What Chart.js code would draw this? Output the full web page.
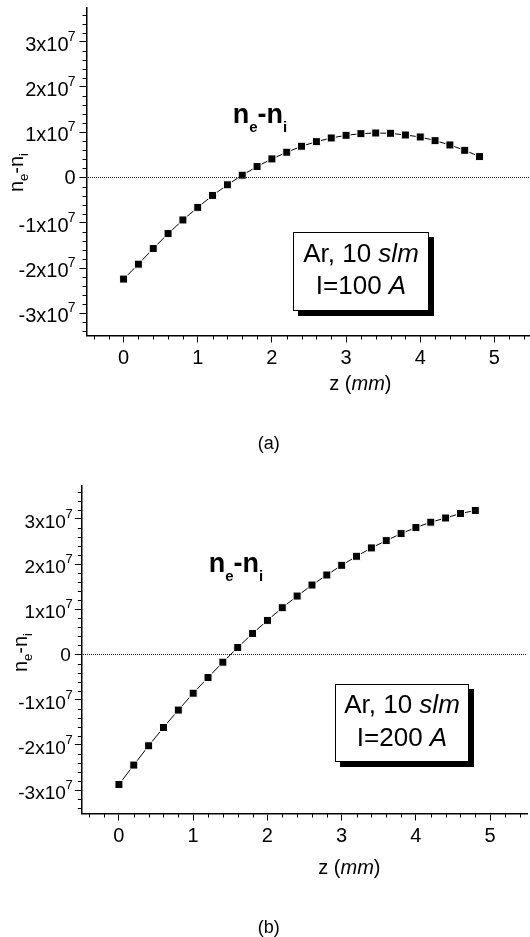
<!DOCTYPE html>
<html>
<head>
<meta charset="utf-8">
<script src="https://cdn.jsdelivr.net/npm/chart.js@4"></script>
<style>
html, body { margin: 0; padding: 0; background: #fff; overflow: hidden; }
canvas { position: absolute; left: 0; display: block; }
</style>
</head>
<body>
<canvas id="chartA" width="530" height="468" style="top:0"></canvas>
<canvas id="chartB" width="530" height="469" style="top:468px"></canvas>
<script>
// z (mm), same for both panels
const zValues = [0, 0.2, 0.4, 0.6, 0.8, 1, 1.2, 1.4, 1.6, 1.8, 2, 2.2, 2.4, 2.6, 2.8, 3, 3.2, 3.4, 3.6, 3.8, 4, 4.2, 4.4, 4.6, 4.8];
const valuesA = [-2.244e7, -1.914e7, -1.569e7, -1.239e7, -0.938e7, -0.66e7, -0.396e7, -0.161e7, 0.051e7, 0.242e7, 0.411e7, 0.558e7, 0.69e7, 0.792e7, 0.873e7, 0.932e7, 0.968e7, 0.983e7, 0.976e7, 0.939e7, 0.895e7, 0.814e7, 0.719e7, 0.6e7, 0.462e7];
const valuesB = [-2.876e7, -2.447e7, -2.02e7, -1.615e7, -1.23e7, -0.857e7, -0.51e7, -0.17e7, 0.155e7, 0.466e7, 0.754e7, 1.035e7, 1.293e7, 1.537e7, 1.759e7, 1.973e7, 2.173e7, 2.358e7, 2.52e7, 2.675e7, 2.809e7, 2.927e7, 3.02e7, 3.12e7, 3.186e7];
const xTicks = [0, 1, 2, 3, 4, 5];
const yTicks = [-3e7, -2e7, -1e7, 0, 1e7, 2e7, 3e7];
const yTickLabels = ["-3x10", "-2x10", "-1x10", "0", "1x10", "2x10", "3x10"];
const yTickExp = ["7", "7", "7", "", "7", "7", "7"];

const FONT = '"Liberation Sans", Arial, sans-serif';

// draws a row of text pieces with different fonts, x is the centre of the row
function drawRuns(ctx, runs, x, y) {
    let total = 0;
    runs.forEach((r) => {
        ctx.font = r.font;
        total += ctx.measureText(r.text).width;
    });
    let pos = x - total / 2;
    ctx.textAlign = "left";
    ctx.textBaseline = "alphabetic";
    runs.forEach((r) => {
        ctx.font = r.font;
        ctx.fillText(r.text, pos, y + (r.dy || 0));
        pos += ctx.measureText(r.text).width;
    });
}

function neRuns(size, subSize, dy, weight) {
    const main = `${weight} ${size}px ${FONT}`;
    const sub = `${weight} ${subSize}px ${FONT}`;
    return [
        { text: "n", font: main },
        { text: "e", font: sub, dy: dy },
        { text: "-", font: main },
        { text: "n", font: main },
        { text: "i", font: sub, dy: dy }
    ];
}

const decorPlugin = {
    id: "decor",
    afterDraw(chart, args, o) {
        const ctx = chart.ctx;
        const xs = chart.scales.x;
        const ys = chart.scales.y;
        const area = chart.chartArea;
        ctx.save();
        ctx.fillStyle = "#000";
        ctx.strokeStyle = "#000";

        // minor ticks
        ctx.lineWidth = 1;
        ctx.beginPath();
        for (let i = -2; i <= 27; i++) {
            if (i % 5 == 0) continue;
            const px = Math.round(xs.getPixelForValue(i * 0.2)) + 0.5;
            if (px > area.right) continue;
            ctx.moveTo(px, area.bottom);
            ctx.lineTo(px, area.bottom + 4);
        }
        for (let i = -17; i <= 18; i++) {
            if (i % 5 == 0) continue;
            const py = Math.round(ys.getPixelForValue(i * 0.2e7)) + 0.5;
            ctx.moveTo(area.left, py);
            ctx.lineTo(area.left - 4, py);
        }
        ctx.stroke();

        // y tick labels with exponent
        yTicks.forEach((v, i) => {
            const py = ys.getPixelForValue(v);
            ctx.textBaseline = "alphabetic";
            ctx.textAlign = "right";
            if (yTickExp[i]) {
                ctx.font = `${o.expSize}px ${FONT}`;
                ctx.fillText(yTickExp[i], area.left - o.expGap, py - 1);
                ctx.font = `${o.tickSize}px ${FONT}`;
                ctx.fillText(yTickLabels[i], area.left - o.expGap - 7, py + 9);
            } else {
                ctx.font = `${o.tickSize}px ${FONT}`;
                ctx.fillText(yTickLabels[i], area.left - 11, py + 7);
            }
        });

        // axis titles
        drawRuns(ctx, [
            { text: "z (", font: `20px ${FONT}` },
            { text: "mm", font: `italic 20px ${FONT}` },
            { text: ")", font: `20px ${FONT}` }
        ], o.xTitle[0], o.xTitle[1]);
        ctx.save();
        ctx.translate(o.yTitle[0], o.yTitle[1]);
        ctx.rotate(-Math.PI / 2);
        drawRuns(ctx, neRuns(20, 13, 5, "normal"), 0, 0);
        ctx.restore();

        // bold curve label
        drawRuns(ctx, neRuns(27, 15, 9, "bold"), o.curveLabel[0], o.curveLabel[1]);

        // note box with shadow
        const b = o.box;
        ctx.fillRect(b.x + 5, b.y + 5, b.w, b.h);
        ctx.fillStyle = "#fff";
        ctx.fillRect(b.x, b.y, b.w, b.h);
        ctx.lineWidth = 1;
        ctx.strokeRect(b.x + 0.5, b.y + 0.5, b.w - 1, b.h - 1);
        ctx.fillStyle = "#000";
        const cx = b.x + b.w / 2;
        drawRuns(ctx, [
            { text: "Ar, 10 ", font: `26px ${FONT}` },
            { text: "slm", font: `italic 26px ${FONT}` }
        ], cx, b.line1);
        drawRuns(ctx, [
            { text: o.current + " ", font: `26px ${FONT}` },
            { text: "A", font: `italic 26px ${FONT}` }
        ], cx, b.line2);

        // panel caption
        ctx.font = `18px ${FONT}`;
        ctx.textAlign = "center";
        ctx.fillText(o.caption[0], o.caption[1], o.caption[2]);
        ctx.restore();
    }
};

function makeChart(id, values, p) {
    return new Chart(document.getElementById(id), {
        type: "line",
        data: {
            datasets: [
                {
                    data: [{ x: p.xMin, y: 0 }, { x: p.xMax, y: 0 }],
                    borderColor: "#222",
                    borderWidth: 1,
                    borderDash: [1, 1],
                    borderDashOffset: p.dashOffset,
                    pointRadius: 0,
                    order: 0
                },
                {
                    data: zValues.map((z, i) => ({ x: z, y: values[i] })),
                    borderColor: "#000",
                    borderWidth: 1,
                    pointStyle: "rect",
                    pointRadius: 5.66,
                    pointBackgroundColor: "#000",
                    pointBorderColor: "#fff",
                    pointBorderWidth: 1,
                    order: 1
                }
            ]
        },
        options: {
            responsive: false,
            animation: false,
            devicePixelRatio: 1,
            layout: { autoPadding: false, padding: { top: p.top, right: p.right, left: 0, bottom: 0 } },
            plugins: {
                legend: { display: false },
                tooltip: { enabled: false },
                decor: p.decor
            },
            scales: {
                x: {
                    type: "linear",
                    min: p.xMin,
                    max: p.xMax,
                    afterBuildTicks: (s) => { s.ticks = xTicks.map((v) => ({ value: v })); },
                    afterFit: (s) => {
                        s.height = p.height - p.axisY;
                        s.paddingLeft = 0;
                        s.paddingRight = 0;
                    },
                    border: { color: "#000", width: 1.5 },
                    grid: { drawOnChartArea: false, tickLength: 7, color: "#000" },
                    ticks: {
                        color: "#000",
                        font: { family: FONT, size: 20 },
                        padding: 4,
                        maxRotation: 0,
                        autoSkip: false,
                        callback: (v) => String(v)
                    }
                },
                y: {
                    type: "linear",
                    min: p.yMin,
                    max: p.yMax,
                    afterBuildTicks: (s) => { s.ticks = yTicks.map((v) => ({ value: v })); },
                    afterFit: (s) => {
                        s.width = p.axisX;
                        s.paddingTop = 0;
                        s.paddingBottom = 0;
                    },
                    border: { color: "#000", width: 1.5 },
                    grid: { drawOnChartArea: false, tickLength: 7, color: "#000" },
                    ticks: { display: false }
                }
            }
        },
        plugins: [decorPlugin]
    });
}

makeChart("chartA", valuesA, {
    height: 468, top: 7.5, right: 0, axisX: 86.5, axisY: 335.5, dashOffset: 0.5,
    xMin: -0.5, xMax: 5.48, yMin: -3.49e7, yMax: 3.755e7,
    decor: {
        tickSize: 20, expSize: 14, expGap: 11,
        xTitle: [360.4, 390],
        yTitle: [23, 172.5],
        curveLabel: [260, 122.7],
        box: { x: 293, y: 232, w: 136, h: 79, line1: 262, line2: 294 },
        current: "I=100",
        caption: ["(a)", 268.7, 449]
    }
});

makeChart("chartB", valuesB, {
    height: 469, top: 17.5, right: 2.7, axisX: 81.8, axisY: 345.5, dashOffset: 0.8,
    xMin: -0.5, xMax: 5.5, yMin: -3.518e7, yMax: 3.739e7,
    decor: {
        tickSize: 19, expSize: 13, expGap: 9,
        xTitle: [349.4, 405.7],
        yTitle: [27, 184.5],
        curveLabel: [236, 103.7],
        box: { x: 335, y: 216, w: 134, h: 78, line1: 245.3, line2: 277.7 },
        current: "I=200",
        caption: ["(b)", 268.7, 465]
    }
});
</script>
</body>
</html>
